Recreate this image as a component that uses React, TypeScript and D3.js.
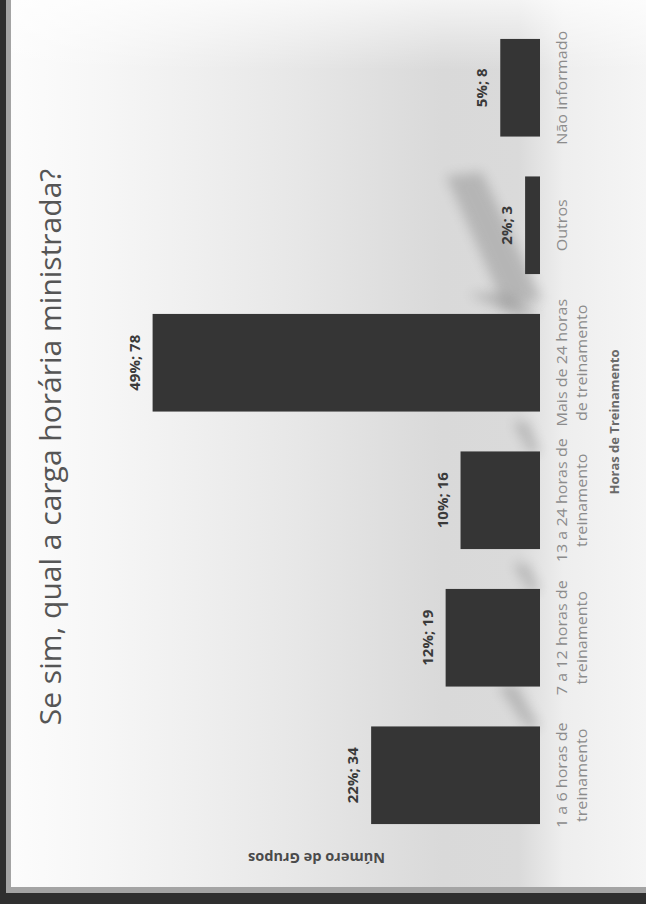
import React from 'react';
import * as d3 from 'd3';

// ---- data (natural order, first category at the bottom of the picture) ----
const categories = [
  '1 a 6 horas de treinamento',
  '7 a 12 horas de treinamento',
  '13 a 24 horas de treinamento',
  'Mais de 24 horas de treinamento',
  'Outros',
  'Não informado',
];
const categoryLines = [
  ['1 a 6 horas de', 'treinamento'],
  ['7 a 12 horas de', 'treinamento'],
  ['13 a 24 horas de', 'treinamento'],
  ['Mais de 24 horas', 'de treinamento'],
  ['Outros'],
  ['Não informado'],
];
const counts = [34, 19, 16, 78, 3, 8];
const percents = ['22%', '12%', '10%', '49%', '2%', '5%'];
const valueDomain = [0, 90];
const title = 'Se sim, qual a carga horária ministrada?';
const categoryAxisTitle = 'Horas de Treinamento';
const valueAxisTitle = 'Número de Grupos';

const W = 646;
const H = 904;
const FONT = "'Open Sans', 'DejaVu Sans', sans-serif";

export default function App() {
  // value axis runs right -> left (chart rotated 90° counter-clockwise)
  const x = d3.scaleLinear().domain(valueDomain).range([540, 93]);
  // category axis runs bottom -> top
  const y = d3
    .scaleBand<string>()
    .domain(categories)
    .range([844, 19])
    .paddingInner(0.29)
    .paddingOuter(0.145);

  const bw = y.bandwidth();

  // decorative diagonal shadows (from the photographed slide)
  const shadows: [number, number][][] = [
    [[446, 176], [482, 172], [542, 300], [505, 308]],
    [[468, 294], [502, 292], [540, 314], [518, 317]],
    [[513, 422], [528, 422], [540, 452], [530, 454]],
    [[513, 564], [528, 564], [540, 590], [530, 592]],
    [[498, 686], [515, 684], [540, 727], [528, 729]],
  ];

  return (
    <svg
      width={W}
      height={H}
      viewBox={`0 0 ${W} ${H}`}
      style={{ position: 'absolute', left: 0, top: 0, display: 'block' }}
    >
      <defs>
        <linearGradient id="bg" x1="0" x2="1" y1="0" y2="0">
          <stop offset="0" stopColor="#fcfcfc" />
          <stop offset="0.15" stopColor="#f6f6f6" />
          <stop offset="0.45" stopColor="#e7e7e7" />
          <stop offset="0.68" stopColor="#d9d9d9" />
          <stop offset="0.8" stopColor="#dadada" />
          <stop offset="0.87" stopColor="#eeeeee" />
          <stop offset="1" stopColor="#f5f5f5" />
        </linearGradient>
        <linearGradient id="topfade" x1="0" x2="0" y1="0" y2="1">
          <stop offset="0" stopColor="#ffffff" stopOpacity="0.7" />
          <stop offset="1" stopColor="#ffffff" stopOpacity="0" />
        </linearGradient>
        <filter id="blur" x="-50%" y="-50%" width="200%" height="200%">
          <feGaussianBlur stdDeviation="6" />
        </filter>
      </defs>

      {/* frame */}
      <rect x={0} y={0} width={W} height={H} fill="#2f2f2f" />
      <rect x={6} y={0} width={W - 6} height={893} fill="#a4a4a4" />
      <rect x={11} y={0} width={W - 11} height={887} fill="url(#bg)" />
      <rect x={11} y={0} width={W - 11} height={70} fill="url(#topfade)" />

      {/* shadows */}
      {shadows.map((p, i) => (
        <polygon
          key={i}
          points={p.map((q) => q.join(',')).join(' ')}
          fill="#8a8a8a"
          opacity={0.45}
          filter="url(#blur)"
        />
      ))}

      {/* title */}
      <text
        transform={`translate(61,447) rotate(-90)`}
        textAnchor="middle"
        fontFamily={FONT}
        fontSize={30}
        fill="#555555"
      >
        {title}
      </text>

      {/* bars */}
      {categories.map((c, i) => (
        <rect
          key={c}
          x={x(counts[i])}
          y={y(c)!}
          width={x(0) - x(counts[i])}
          height={bw}
          fill="#353535"
        />
      ))}

      {/* value labels */}
      {categories.map((c, i) => (
        <text
          key={c}
          transform={`translate(${x(counts[i]) - 13},${y(c)! + bw / 2}) rotate(-90)`}
          textAnchor="middle"
          fontFamily={FONT}
          fontWeight={700}
          fontSize={15}
          fill="#3a3a3a"
        >
          {`${percents[i]}; ${counts[i]}`}
        </text>
      ))}

      {/* category labels */}
      {categories.map((c, i) => (
        <text
          key={c}
          transform={`translate(567,${y(c)! + bw / 2}) rotate(-90) scale(1.15,1)`}
          textAnchor="middle"
          fontFamily={FONT}
          fontSize={14}
          fill="#8c8c8c"
        >
          {categoryLines[i].map((ln, j) => (
            <tspan key={j} x={0} dy={j === 0 ? 0 : 20}>
              {ln}
            </tspan>
          ))}
        </text>
      ))}

      {/* category axis title */}
      <text
        transform={`translate(619,422) rotate(-90)`}
        textAnchor="middle"
        fontFamily={FONT}
        fontWeight={700}
        fontSize={13}
        fill="#6a6a6a"
      >
        {categoryAxisTitle}
      </text>

      {/* value axis title (upside down) */}
      <text
        transform={`translate(${(x.range()[0] + x.range()[1]) / 2},853) rotate(180)`}
        textAnchor="middle"
        fontFamily={FONT}
        fontWeight={700}
        fontSize={14.5}
        fill="#4a4a4a"
      >
        {valueAxisTitle}
      </text>
    </svg>
  );
}
